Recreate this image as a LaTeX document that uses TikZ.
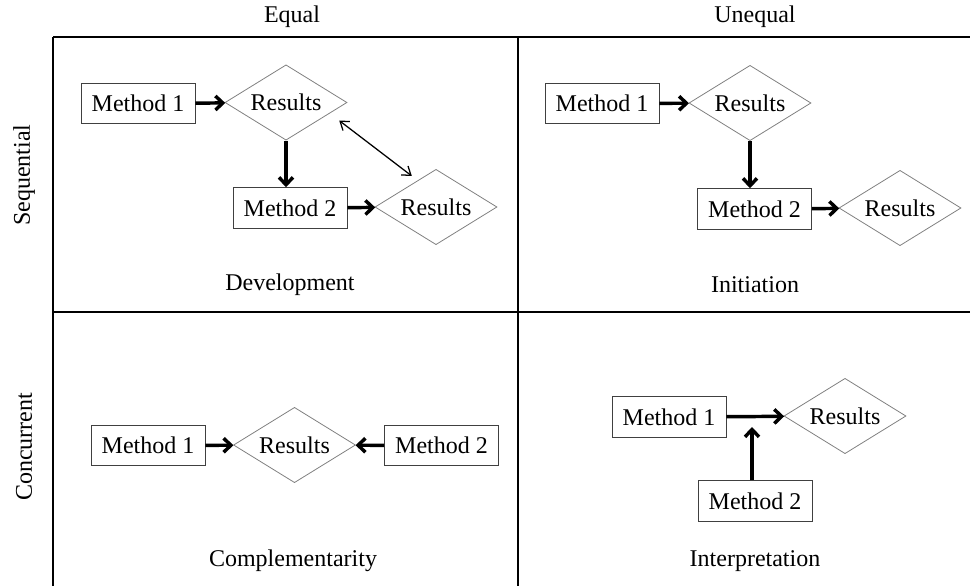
\documentclass[tikz,border=0pt]{standalone}
\usepackage{fontspec}
\setmainfont{Liberation Serif}
\usetikzlibrary{shapes.geometric,arrows.meta}
\begin{document}
\begin{tikzpicture}[x=0.75pt,y=-0.75pt,
  every node/.style={font=\fontsize{18}{21}\selectfont},
  method/.style={draw=black!75,line width=0.7pt,minimum width=85.5pt,minimum height=30.5pt,inner sep=0pt},
  result/.style={diamond,aspect=1.6,draw=black!50,line width=0.6pt,minimum width=91.5pt,minimum height=56.5pt,inner sep=0pt},
  flow/.style={line width=2.6pt,-{Straight Barb[length=5.5pt,width=10.5pt]}},
  link/.style={line width=0.95pt,{Straight Barb[length=6pt,width=8.5pt]}-{Straight Barb[length=6pt,width=8.5pt]}},
  grid/.style={line width=1.5pt,black},
  caption/.style={},
  axis/.style={}]
\useasboundingbox (0,0) rectangle (970,586);

% frame of the 2x2 matrix
\draw[grid] (53,37) -- (970,37);
\draw[grid] (53,37) -- (53,586);
\draw[grid] (518,37) -- (518,586);
\draw[grid] (53,312) -- (970,312);

% axis labels
\node[axis] (equal) at (292,17) {Equal};
\node[axis] (unequal) at (755,17) {Unequal};
\node[axis,rotate=90] (seq) at (24,175) {Sequential};
\node[axis,rotate=90] (conc) at (24,447) {Concurrent};

% Development
\node[method] (a1) at (138,103.5) {Method 1};
\node[result] (ar1) at (286,102.5) {Results};
\node[method] (a2) at (290,208) {Method 2};
\node[result] (ar2) at (436,207) {Results};
\draw[flow] (a1) -- (ar1);
\draw[flow] (ar1.south) -- (ar1.south |- a2.north);
\draw[flow] (a2) -- (ar2);
\draw[link] ([shift={(22.5,-1)}]ar1.south east) -- ([shift={(6.5,-12)}]ar2.north west);
\node[caption] (dev) at (290,285) {Development};

% Initiation
\node[method] (b1) at (602,103.5) {Method 1};
\node[result] (br1) at (750,103) {Results};
\node[method] (b2) at (754.5,209) {Method 2};
\node[result] (br2) at (900,208) {Results};
\draw[flow] (b1) -- (br1);
\draw[flow] (br1.south) -- (br1.south |- b2.north);
\draw[flow] (b2) -- (br2);
\node[caption] (ini) at (755,285) {Initiation};

% Complementarity
\node[method] (c1) at (148,445.5) {Method 1};
\node[result] (cr) at (294.5,445) {Results};
\node[method] (c2) at (441.5,445.5) {Method 2};
\draw[flow] (c1) -- (cr);
\draw[flow] (c2) -- (cr);
\node[caption] (comp) at (293,561) {Complementarity};

% Interpretation
\node[method] (d1) at (669,417) {Method 1};
\node[result] (dr) at (845,416) {Results};
\node[method] (d2) at (755,501) {Method 2};
\coordinate (dj) at (752,427);
\draw[flow] (d1) -- (dr);
\draw[flow] (dj |- d2.north) -- (dj);
\node[caption] (interp) at (755,561) {Interpretation};
\end{tikzpicture}
\end{document}
